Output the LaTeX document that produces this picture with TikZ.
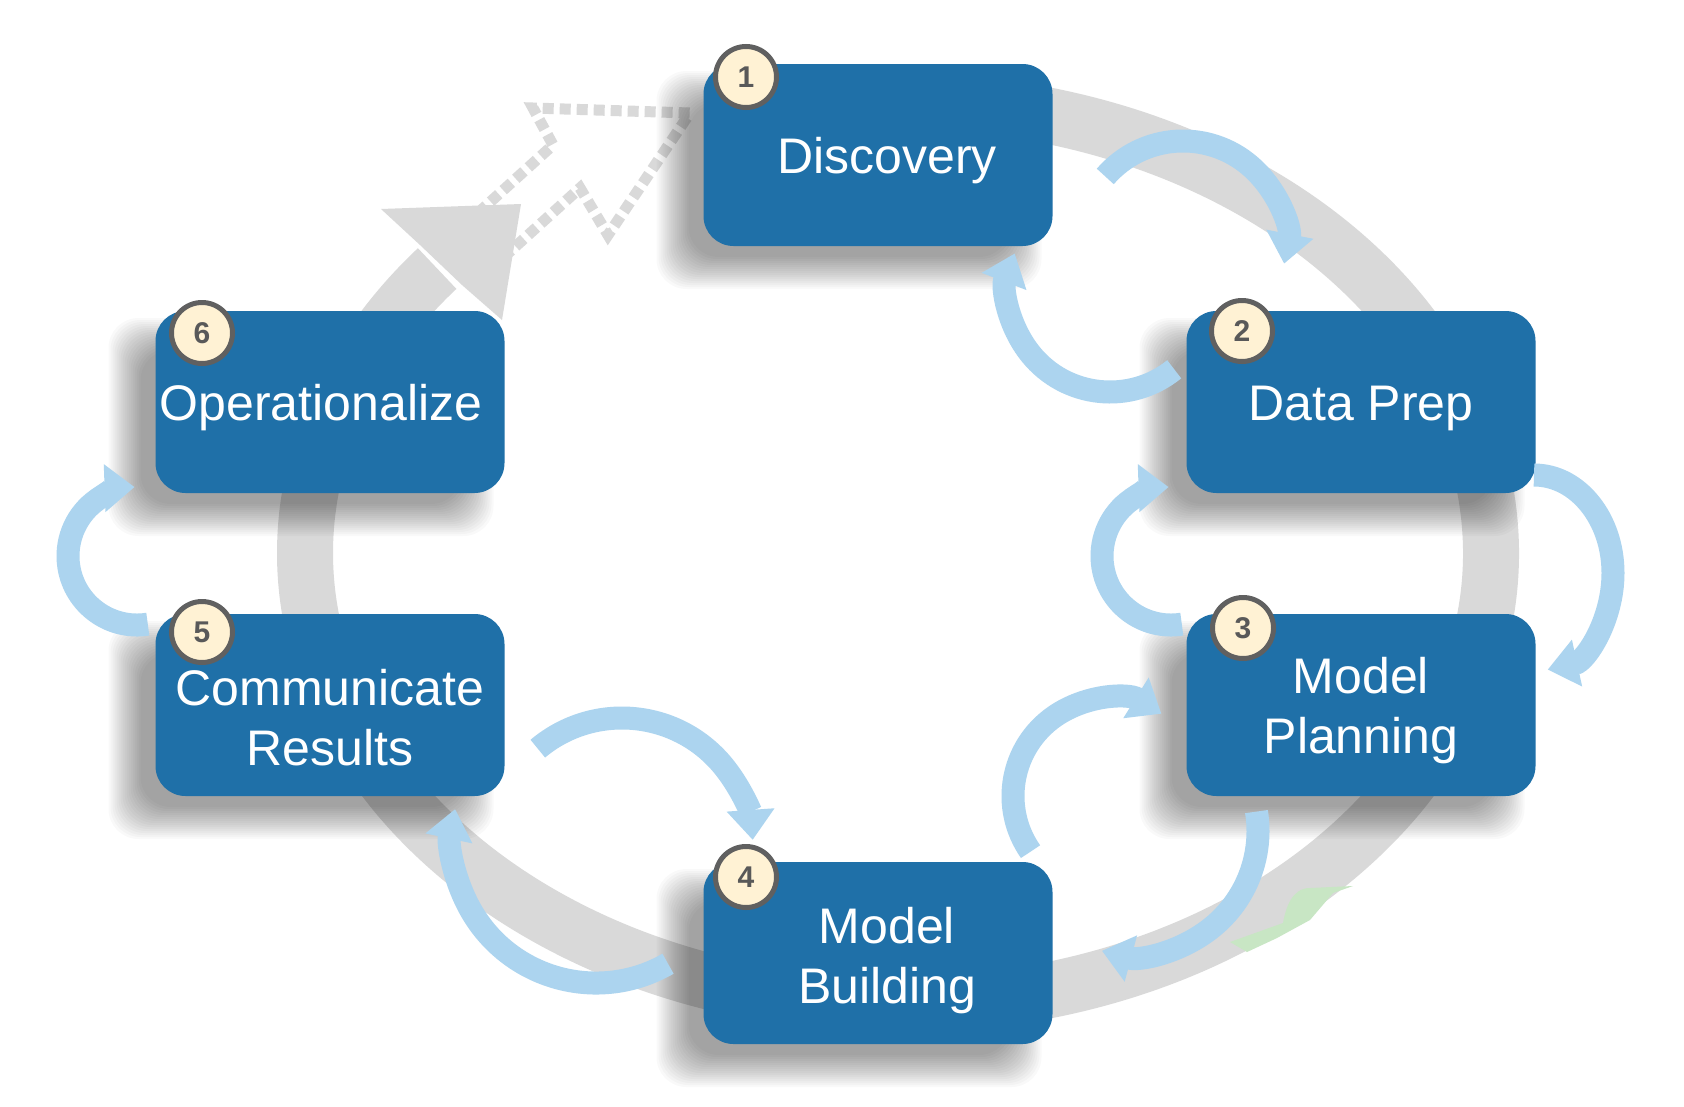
\documentclass[tikz,border=0pt]{standalone}
\usepackage{fontspec}
\setmainfont{Liberation Sans}
\usetikzlibrary{arrows.meta,calc}
\definecolor{boxblue}{RGB}{31,112,168}
\definecolor{ringgray}{RGB}{217,217,217}
\definecolor{flowblue}{RGB}{172,212,239}
\definecolor{badgefill}{RGB}{255,242,212}
\definecolor{badgeline}{RGB}{96,96,96}
\definecolor{numgray}{RGB}{89,89,89}
\definecolor{specklegreen}{RGB}{200,230,196}
% soft drop shadow under a stage box centred at coordinate #1
\newcommand\stageshadow[1]{%
  \foreach \d in {-15,-13,...,17} {
    \fill[black, fill opacity=0.025, rounded corners=30pt]
      ($(#1)+(-204.5-\d,-67-\d)$) rectangle ($(#1)+(146.5+\d,117+\d)$);
  }}
\begin{document}
\begin{tikzpicture}[x=1pt,y=1pt,yscale=-1,
  stage/.style={fill=boxblue, rounded corners=30pt, minimum width=349pt,
    minimum height=182pt, inner sep=0pt},
  stagetext/.style={text=white, font=\fontsize{50}{60}\selectfont,
    align=center, inner sep=0pt, anchor=base},
  badge/.style={circle, fill=badgefill, draw=badgeline, line width=5pt,
    minimum size=61pt, inner sep=0pt, text=numgray,
    font=\fontsize{30}{30}\selectfont\bfseries},
  cyclering/.style={draw=ringgray, line width=56pt},
  ghostarrow/.style={draw=ringgray, line width=11pt, dash pattern=on 11pt off 6pt},
  flow/.style={draw=flowblue, line width=23pt, -{Triangle[width=46pt,length=30pt]}},
]
\fill[white] (0,0) rectangle (1684,1106);
\useasboundingbox (0,0) rectangle (1684,1106);

% the big grey cycle ring
\coordinate (rc) at (898,553);
\draw[cyclering] ($(rc)+(265:593 and 452)$)
  arc[start angle=265, end angle=579, x radius=593, y radius=452];

% dotted outline of the "next iteration" arrow
\draw[ghostarrow] (478,213) -- (553,145) -- (533,108) -- (690,113)
  -- (608,235) -- (580,188) -- (505,256);

% solid head of the ring
\fill[ringgray] (420,245) -- (381,209) -- (521,204) -- (502,320)
  -- (462,285) -- cycle;

% faint green speck on the ring
\fill[specklegreen] (1230,942) -- (1283,923) to[out=-80,in=180] (1310,888)
  -- (1353,886) -- (1333,893) -- (1310,920) -- (1277,938) -- (1247,952) -- cycle;

% stage positions
\coordinate (p1) at (878,155);
\coordinate (p2) at (1361,402);
\coordinate (p3) at (1361,705);
\coordinate (p4) at (878,953);
\coordinate (p5) at (330,705);
\coordinate (p6) at (330,402);

% shadows
\stageshadow{p1}\stageshadow{p2}\stageshadow{p3}
\stageshadow{p4}\stageshadow{p5}\stageshadow{p6}

% stage boxes
\node[stage] (discovery) at (p1) {};
\node[stage] (dataprep) at (p2) {};
\node[stage] (planning) at (p3) {};
\node[stage] (building) at (p4) {};
\node[stage] (communicate) at (p5) {};
\node[stage] (operationalize) at (p6) {};

% stage titles
\node[stagetext] (discovery-t) at (887,173) {Discovery};
\node[stagetext] (dataprep-t) at (1361,420) {Data Prep};
\node[stagetext] (planning-t) at (1361,753) {Model\\Planning};
\node[stagetext] (building-t) at (887,1003) {Model\\Building};
\node[stagetext] (communicate-t) at (330,765) {Communicate\\Results};
\node[stagetext] (operationalize-t) at (321,420) {Operationalize};

% curved feedback arrows between neighbouring stages
\coordinate (c1) at (1183,244);
\draw[flow] ($(c1)+(221:103)$) arc[start angle=221, end angle=371, radius=103];
\coordinate (c2) at (1110,290);
\draw[flow] ($(c2)+(51:102)$) arc[start angle=51, end angle=201, radius=102];
\coordinate (c3) at (1534,573);
\draw[flow] ($(c3)+(-90:79 and 98)$)
  arc[start angle=-90, end angle=80, x radius=79, y radius=98];
\coordinate (c4) at (1171,556);
\draw[flow] ($(c4)+(81:69)$) arc[start angle=81, end angle=268, radius=69];
\coordinate (c5) at (1110,796);
\draw[flow] ($(c5)+(145:97)$) arc[start angle=145, end angle=302, radius=97];
\coordinate (c6) at (1134,831);
\draw[flow] ($(c6)+(-9:124)$) arc[start angle=-9, end angle=105, radius=124];
\coordinate (c7) at (622,849);
\draw[flow] ($(c7)+(230:131)$) arc[start angle=230, end angle=356, radius=131];
\coordinate (c8) at (596,839);
\draw[flow] ($(c8)+(60:144)$) arc[start angle=60, end angle=192, radius=144];
\coordinate (c9) at (137,556);
\draw[flow] ($(c9)+(81:69)$) arc[start angle=81, end angle=268, radius=69];

% numbered badges
\node[badge] (b1) at (746,77) {1};
\node[badge] (b2) at (1242,331) {2};
\node[badge] (b3) at (1243,628) {3};
\node[badge] (b4) at (746,877) {4};
\node[badge] (b5) at (202,632) {5};
\node[badge] (b6) at (202,333) {6};
\end{tikzpicture}
\end{document}
